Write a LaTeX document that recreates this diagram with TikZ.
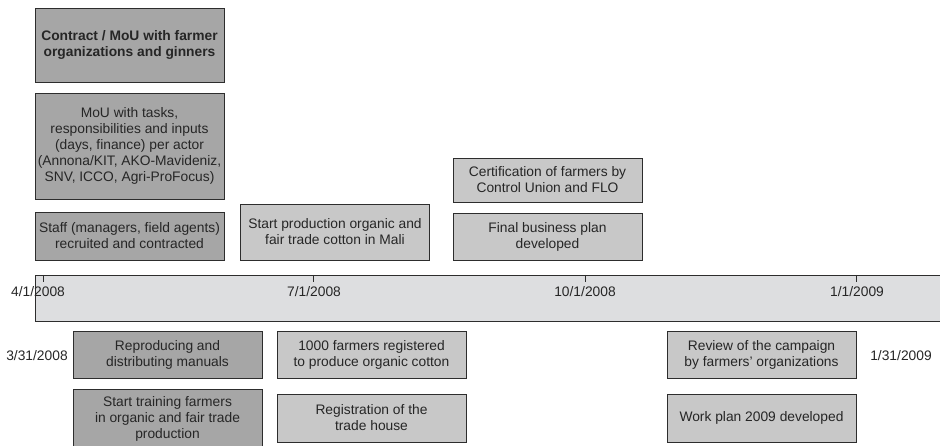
\documentclass[tikz,border=0pt]{standalone}
\usepackage{fontspec}
\setmainfont{Liberation Sans}
\definecolor{darkbox}{RGB}{166,166,166}
\definecolor{lightbox}{RGB}{200,200,200}
\definecolor{barfill}{RGB}{221,222,224}
\definecolor{edge}{RGB}{45,45,45}
\begin{document}
\begin{tikzpicture}[x=1pt,y=-1pt,
  every node/.style={font=\fontsize{13.8}{16}\selectfont, text=black!85},
  evbox/.style={draw=edge, line width=0.9pt, align=center, inner sep=0pt, minimum width=189pt},
  darkev/.style={evbox, fill=darkbox},
  lightev/.style={evbox, fill=lightbox},
  datelbl/.style={inner sep=0pt},
  tick/.style={draw=edge, line width=0.8pt}]
\useasboundingbox (0,0) rectangle (940,446);
\clip (0,0) rectangle (940,446);
% upper events
\node[darkev, minimum height=74pt, font=\bfseries\fontsize{13.8}{16}\selectfont] (contract) at (129.5,45) {Contract / MoU with farmer\\organizations and ginners};
\node[darkev, minimum height=106pt] (mou) at (129.5,146) {MoU with tasks,\\responsibilities and inputs\\(days, finance) per actor\\(Annona/KIT, AKO-Mavideniz,\\SNV, ICCO, Agri-ProFocus)};
\node[darkev, minimum height=48pt] (staff) at (129.5,236) {Staff (managers, field agents)\\recruited and contracted};
\node[lightev, minimum height=56pt] (startprod) at (335,232) {Start production organic and\\fair trade cotton in Mali};
\node[lightev, minimum height=44pt] (cert) at (547.5,180) {Certification of farmers by\\Control Union and FLO};
\node[lightev, minimum height=47pt] (final) at (547.5,236.5) {Final business plan\\developed};
% timeline bar
\node[draw=edge, line width=0.9pt, fill=barfill, inner sep=0pt, minimum width=910pt, minimum height=46pt, anchor=north west] (bar) at (35,275) {};
\coordinate (t1) at (43,275);
\coordinate (t2) at (313,275);
\coordinate (t3) at (585,275);
\coordinate (t4) at (856,275);
\foreach \t in {t1,t2,t3,t4} \draw[tick] (\t) -- ++(0,7);
\node[datelbl] (d1) at (38,292) {4/1/2008};
\node[datelbl] (d2) at (314,292) {7/1/2008};
\node[datelbl] (d3) at (585,292) {10/1/2008};
\node[datelbl] (d4) at (857,292) {1/1/2009};
\node[datelbl] (start) at (37,356) {3/31/2008};
\node[datelbl] (end) at (901,356) {1/31/2009};
% lower events
\node[darkev, minimum height=47pt] (repro) at (167.5,354.5) {Reproducing and\\distributing manuals};
\node[darkev, minimum height=60pt] (training) at (167.5,419) {Start training farmers\\in organic and fair trade\\production};
\node[lightev, minimum height=47pt] (registered) at (371.5,354.5) {1000 farmers registered\\to produce organic cotton};
\node[lightev, minimum height=48pt] (tradehouse) at (371.5,418) {Registration of the\\trade house};
\node[lightev, minimum height=47pt] (review) at (761.5,354.5) {Review of the campaign\\by farmers' organizations};
\node[lightev, minimum height=48pt] (workplan) at (761.5,418) {Work plan 2009 developed};
\end{tikzpicture}
\end{document}
